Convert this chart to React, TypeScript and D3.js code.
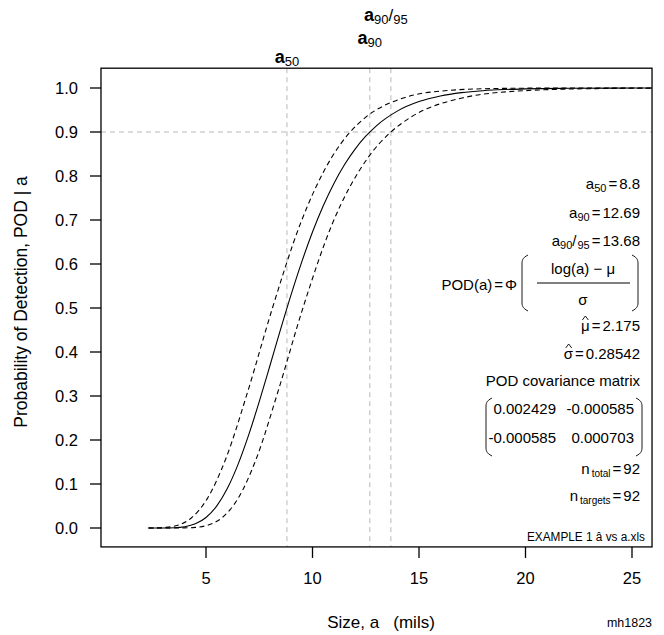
import React from "react";
import * as d3 from "d3";

// ---- data ----
const fitA = [2.3, 3, 3.5, 4, 4.5, 5, 5.5, 6, 6.5, 7, 7.5, 8, 8.5, 9, 9.5, 10, 10.5, 11, 11.5, 12, 12.5, 13, 14, 15, 16, 17, 18, 19, 20, 22, 24, 26];
const fitPOD = [0, 0.0001, 0.0006, 0.0029, 0.0094, 0.0238, 0.0498, 0.0898, 0.1441, 0.2111, 0.2874, 0.3688, 0.4514, 0.531, 0.6054, 0.6726, 0.7317, 0.7826, 0.8255, 0.8612, 0.8904, 0.9141, 0.948, 0.9691, 0.9819, 0.9895, 0.9939, 0.9965, 0.998, 0.9993, 0.9998, 0.9999];
const upperA = [2.3, 2.65, 3.12, 3.67, 4.31, 5.06, 5.94, 6.95, 8.12, 9.43, 10.89, 11.77, 12.49, 14.26, 16.21, 18.4, 20.84, 23.59, 26];
const upperPOD = [0.00004, 0.00023, 0.00135, 0.00621, 0.02275, 0.06681, 0.15866, 0.30854, 0.5, 0.69146, 0.84134, 0.9, 0.93319, 0.97725, 0.99379, 0.99865, 0.99977, 0.99997, 1.0];
const lowerA = [2.3, 3.51, 3.97, 4.49, 5.07, 5.74, 6.5, 7.37, 8.37, 9.55, 10.93, 12.6, 13.68, 14.6, 17.02, 19.91, 23.35, 26];
const lowerPOD = [0, 0.00003, 0.00023, 0.00135, 0.00621, 0.02275, 0.06681, 0.15866, 0.30854, 0.5, 0.69146, 0.84134, 0.9, 0.93319, 0.97725, 0.99379, 0.99865, 0.9996];

const xTicks = [5, 10, 15, 20, 25];
const yTicks = [0, 0.1, 0.2, 0.3, 0.4, 0.5, 0.6, 0.7, 0.8, 0.9, 1.0];
const a50 = 8.8;
const a90 = 12.69;
const a9095 = 13.68;
const podLevel = 0.9;
const muHat = "2.175";
const sigmaHat = "0.28542";
const covRow1 = ["0.002429", "-0.000585"];
const covRow2 = ["-0.000585", "0.000703"];
const nTotal = 92;
const nTargets = 92;

const W = 664;
const H = 635;
const FONT = "'Liberation Sans', Arial, sans-serif";

// Arial/Liberation advance widths (em) for the characters used after "="
const ADV: Record<string, number> = { "0": 0.556, "1": 0.556, "2": 0.556, "3": 0.556, "4": 0.556, "5": 0.556, "6": 0.556, "7": 0.556, "8": 0.556, "9": 0.556, ".": 0.278, "=": 0.584 };
const textW = (s: string, fs: number) => s.split("").reduce((a, c) => a + (ADV[c] ?? 0.556) * fs, 0);

function Hat({ cx, cy }: { cx: number; cy: number }) {
  return <path d={`M${cx - 3},${cy + 3} L${cx},${cy - 1} L${cx + 3},${cy + 3}`} fill="none" stroke="#000" strokeWidth={0.9} />;
}

// tall bracket: straight middle, curved ends
function Paren({ x, y0, y1, dir }: { x: number; y0: number; y1: number; dir: 1 | -1 }) {
  const d = 6 * dir; // horizontal bulge
  const xi = x - d;
  const c = 9;
  const p = `M${x},${y0} C${xi},${y0 + 3} ${xi},${y0 + c - 3} ${xi},${y0 + c} L${xi},${y1 - c} C${xi},${y1 - c + 3} ${xi},${y1 - 3} ${x},${y1}`;
  return <path d={p} fill="none" stroke="#000" strokeWidth={0.9} />;
}

export default function App() {
  const x = d3.scaleLinear().domain([0, 25]).range([99.5, 632]);
  const y = d3.scaleLinear().domain([0, 1]).range([528, 88]);
  const bx0 = x(0.07), bx1 = x(25.94);
  const by0 = y(1.045), by1 = y(-0.043);

  const line = d3
    .line<[number, number]>()
    .x((d) => x(d[0]))
    .y((d) => y(d[1]))
    .curve(d3.curveMonotoneX);

  const fit = fitA.map((a, i) => [a, fitPOD[i]] as [number, number]);
  const up = upperA.map((a, i) => [a, upperPOD[i]] as [number, number]);
  const lo = lowerA.map((a, i) => [a, lowerPOD[i]] as [number, number]);

  const lx = 640;
  const fs = 15;
  const grey = "#b8b8b8";
  const gap = 2;

  const muRight = lx - textW("=" + muHat, fs) - 2 * gap;
  const sigRight = lx - textW("=" + sigmaHat, fs) - 2 * gap;
  const greekW = 0.58 * fs;

  return (
    <svg width={W} height={H} style={{ position: "absolute", left: 0, top: 0, background: "#fff" }} fontFamily={FONT}>
      <defs>
        <clipPath id="plotclip">
          <rect x={bx0} y={by0} width={bx1 - bx0} height={by1 - by0} />
        </clipPath>
      </defs>
      <rect x={0} y={0} width={W} height={H} fill="#fff" />

      {/* reference lines */}
      <g stroke={grey} strokeWidth={1} strokeDasharray="5,4" fill="none">
        {[a50, a90, a9095].map((v, i) => (
          <line key={i} x1={x(v)} x2={x(v)} y1={by0} y2={by1} />
        ))}
        <line x1={bx0} x2={bx1} y1={y(podLevel)} y2={y(podLevel)} />
      </g>

      {/* curves */}
      <g clipPath="url(#plotclip)" fill="none" stroke="#000" strokeWidth={1.1}>
        <path d={line(fit) || ""} />
        <path d={line(up) || ""} strokeDasharray="5,3.5" />
        <path d={line(lo) || ""} strokeDasharray="5,3.5" />
      </g>

      {/* box */}
      <rect x={bx0} y={by0} width={bx1 - bx0} height={by1 - by0} fill="none" stroke="#000" strokeWidth={1.3} />

      {/* y axis */}
      <g>
        {yTicks.map((t) => (
          <g key={t}>
            <line x1={bx0 - 11} x2={bx0} y1={y(t)} y2={y(t)} stroke="#000" strokeWidth={1.3} />
            <text x={78} y={y(t) + 6} textAnchor="end" fontSize={16.5}>
              {t.toFixed(1)}
            </text>
          </g>
        ))}
      </g>
      {/* x axis */}
      <g>
        {xTicks.map((t) => (
          <g key={t}>
            <line x1={x(t)} x2={x(t)} y1={by1} y2={by1 + 11} stroke="#000" strokeWidth={1.3} />
            <text x={x(t)} y={584} textAnchor="middle" fontSize={16.5}>
              {t}
            </text>
          </g>
        ))}
      </g>

      {/* axis titles */}
      <text x={381} y={628} textAnchor="middle" fontSize={17} xmlSpace="preserve">
        {"Size, a   (mils)"}
      </text>
      <text transform={`translate(27,${y(0.5) - 6}) rotate(-90)`} textAnchor="middle" fontSize={17.5}>
        Probability of Detection, POD | a
      </text>
      <text x={652} y={627} textAnchor="end" fontSize={12} textLength={45} lengthAdjust="spacingAndGlyphs">
        mh1823
      </text>

      {/* top labels */}
      <text x={x(a50)} y={63} textAnchor="middle" fontSize={18}>
        <tspan fontWeight="bold">a</tspan>
        <tspan fontSize={13} dy={3}>50</tspan>
      </text>
      <text x={x(a90)} y={44} textAnchor="middle" fontSize={18}>
        <tspan fontWeight="bold">a</tspan>
        <tspan fontSize={13} dy={3}>90</tspan>
      </text>
      <text x={x(a9095) - 5} y={21} textAnchor="middle" fontSize={18}>
        <tspan fontWeight="bold">a</tspan>
        <tspan fontSize={13} dy={3}>90</tspan>
        <tspan fontSize={17} dy={-3}>/</tspan>
        <tspan fontSize={13} dy={3}>95</tspan>
      </text>

      {/* legend text */}
      <g fontSize={fs} textAnchor="end">
        <text x={lx} y={189}>
          a<tspan fontSize={11} dy={3}>50</tspan>
          <tspan dy={-3} dx={gap}>=</tspan>
          <tspan dx={gap}>{a50}</tspan>
        </text>
        <text x={lx} y={218}>
          a<tspan fontSize={11} dy={3}>90</tspan>
          <tspan dy={-3} dx={gap}>=</tspan>
          <tspan dx={gap}>{a90}</tspan>
        </text>
        <text x={lx} y={246}>
          a<tspan fontSize={11} dy={3}>90</tspan>
          <tspan dy={-3}>/</tspan>
          <tspan fontSize={11} dy={3} dx={1}>95</tspan>
          <tspan dy={-3} dx={gap}>=</tspan>
          <tspan dx={gap}>{a9095}</tspan>
        </text>

        {/* formula */}
        <text x={517} y={290}>
          POD(a)<tspan dx={gap}>=</tspan>
          <tspan dx={gap}>Φ</tspan>
        </text>
        <text x={583} y={274} textAnchor="middle">log(a) − μ</text>
        <line x1={537} x2={630} y1={283} y2={283} stroke="#000" strokeWidth={1} />
        <text x={583} y={305} textAnchor="middle">σ</text>
        <Paren x={528} y0={255} y1={311} dir={1} />
        <Paren x={632} y0={255} y1={311} dir={-1} />

        <text x={muRight} y={331}>μ</text>
        <Hat cx={muRight - greekW / 2} cy={317} />
        <text x={lx} y={331}>
          =<tspan dx={gap}>{muHat}</tspan>
        </text>
        <text x={sigRight} y={359}>σ</text>
        <Hat cx={sigRight - greekW / 2} cy={345} />
        <text x={lx} y={359}>
          =<tspan dx={gap}>{sigmaHat}</tspan>
        </text>
        <text x={lx} y={386}>POD covariance matrix</text>

        {/* matrix */}
        <text x={556} y={414}>{covRow1[0]}</text>
        <text x={634} y={414}>{covRow1[1]}</text>
        <text x={556} y={443}>{covRow2[0]}</text>
        <text x={634} y={443}>{covRow2[1]}</text>
        <Paren x={492} y0={398} y1={456} dir={1} />
        <Paren x={636} y0={398} y1={456} dir={-1} />

        <text x={lx} y={474}>
          n<tspan fontSize={10} dy={3} dx={2}>total</tspan>
          <tspan dy={-3} dx={gap}>=</tspan>
          <tspan dx={gap}>{nTotal}</tspan>
        </text>
        <text x={lx} y={501}>
          n<tspan fontSize={10} dy={3} dx={2}>targets</tspan>
          <tspan dy={-3} dx={gap}>=</tspan>
          <tspan dx={gap}>{nTargets}</tspan>
        </text>
        <text x={645} y={541} fontSize={12} textLength={118} lengthAdjust="spacingAndGlyphs">
          EXAMPLE 1 â vs a.xls
        </text>
      </g>
    </svg>
  );
}
